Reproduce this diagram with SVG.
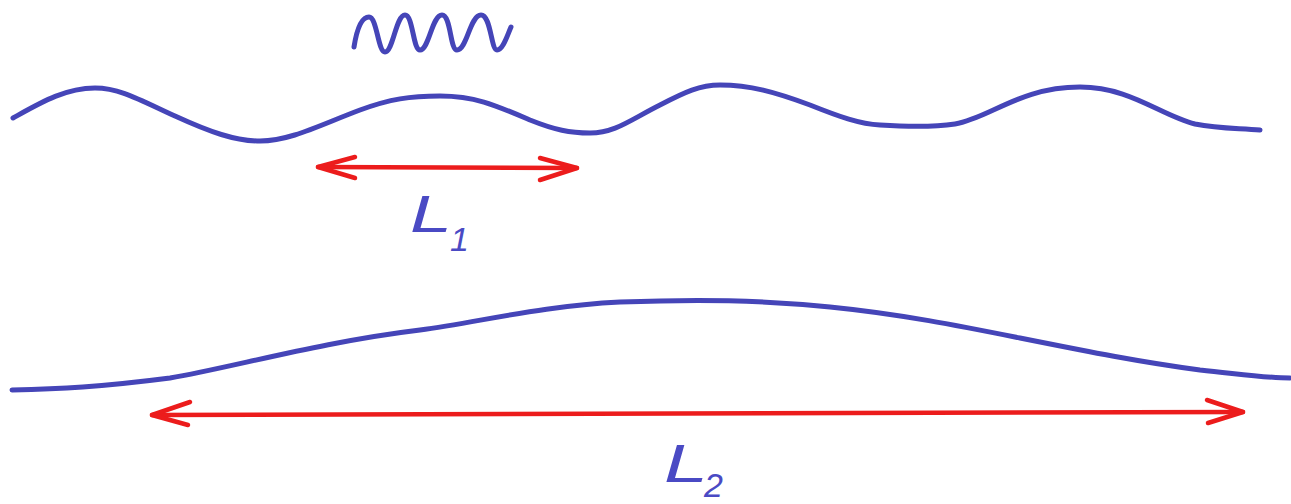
<svg xmlns="http://www.w3.org/2000/svg" width="1291" height="504" viewBox="0 0 1291 504">
<style>
.wave{fill:none;stroke:#4545b8;stroke-width:5;stroke-linecap:round;stroke-linejoin:round}
.arr{fill:none;stroke:#ec1c1c;stroke-width:4.5;stroke-linecap:round;stroke-linejoin:round}
.lbl{fill:#4a4ac4;font-family:"Liberation Sans",Arial,sans-serif;font-style:italic}
</style>
<rect width="1291" height="504" fill="#ffffff"/>
<g id="squiggle">
<path class="wave" d="M354,47 C357,28 362,17 369,17 C377,17 378,52 385,52 C393,52 396,15 405,15 C413,15 413,50 420,50 C429,50 432,15 442,15 C451,15 450,50 457,50 C467,50 470,15 481,15 C491,15 491,50 497,50 C503,50 507,36 511,27"/>
</g>
<g id="wave-short">
<path class="wave" d="M13,118 C40,103 65,88 95,88 C120,88 140,100 175,116 C210,132 235,141 260,141 C290,141 320,125 360,110 C390,99 410,96 440,96 C475,96 495,105 530,120 C555,130 570,133 590,133 C615,133 630,120 660,105 C685,92 700,85 720,85 C750,85 775,92 810,105 C840,117 860,124 880,125 C910,127 935,127 955,124 C990,118 1020,87 1080,87 C1130,87 1160,115 1195,124 C1220,129 1240,128 1260,130"/>
</g>
<g id="wave-long">
<path class="wave" d="M12,390 C60,389 100,387 170,378 C230,368 320,342 420,330 C480,322 540,306 620,302 C700,299 760,300 830,307 C900,314 960,326 1020,338 C1090,352 1140,362 1200,370 C1240,374 1265,378 1290,378"/>
</g>
<g id="arrow-L1">
<path class="arr" d="M318,167 L577,168"/>
<path class="arr" d="M355,157 L318,167 L355,178"/>
<path class="arr" d="M540,158 L577,168 L540,180"/>
</g>
<g id="arrow-L2">
<path class="arr" d="M152,415 L1243,412"/>
<path class="arr" d="M190,402 L152,415 L188,425"/>
<path class="arr" d="M1207,400 L1243,412 L1208,423"/>
</g>
<g id="label-L1">
<text class="lbl" x="410" y="232" font-size="52" textLength="42" lengthAdjust="spacingAndGlyphs">L</text>
<text class="lbl" x="450" y="251" font-size="34">1</text>
</g>
<g id="label-L2">
<text class="lbl" x="664" y="482" font-size="54" textLength="44" lengthAdjust="spacingAndGlyphs">L</text>
<text class="lbl" x="704" y="497" font-size="34">2</text>
</g>
</svg>
